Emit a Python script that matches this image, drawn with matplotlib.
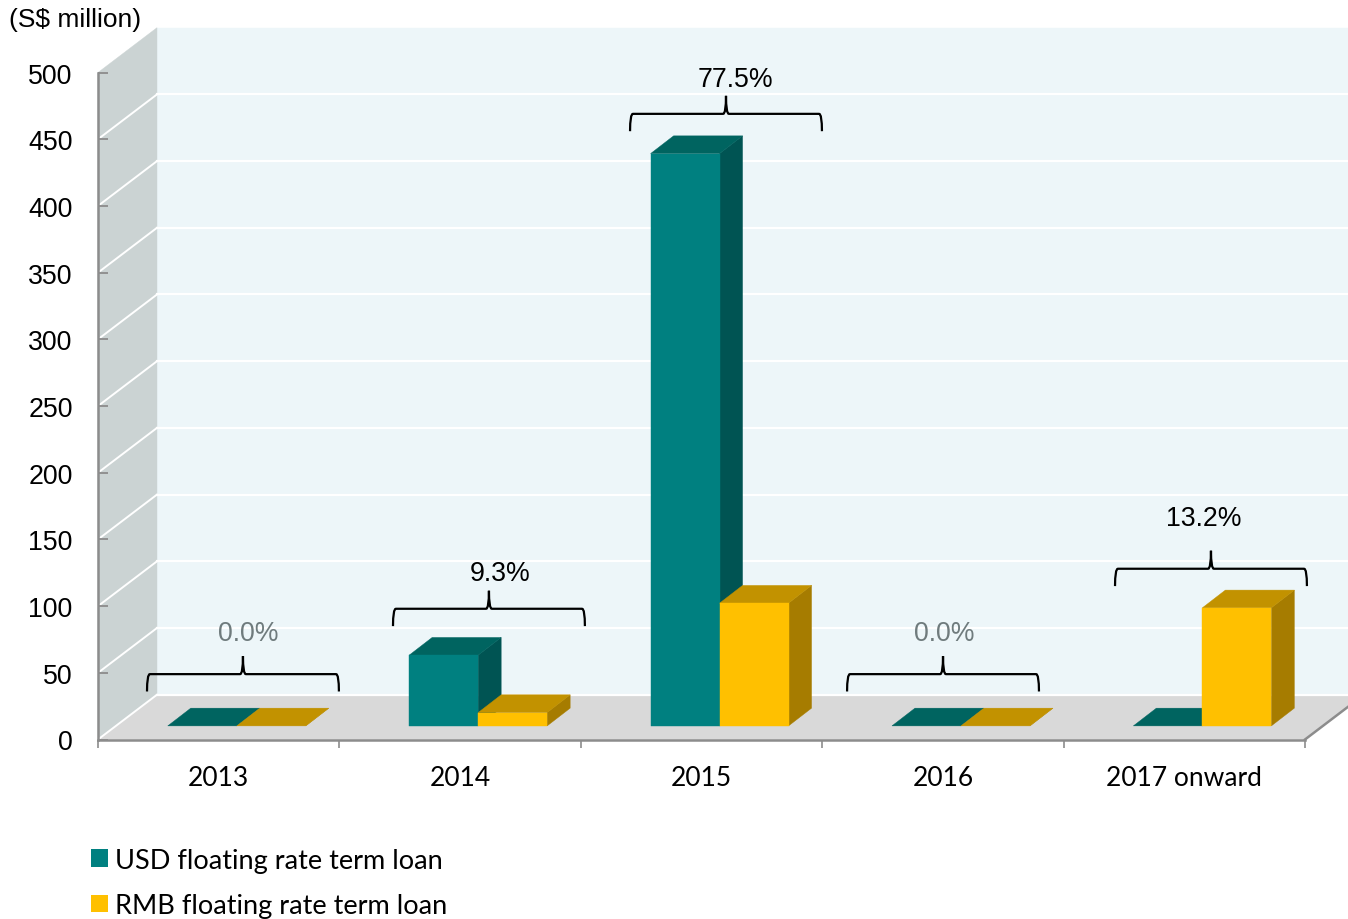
import matplotlib
matplotlib.use('Agg')
from matplotlib import pyplot as plt
from matplotlib.patches import Polygon, Patch, PathPatch
from matplotlib.path import Path

categories = ['2013', '2014', '2015', '2016', '2017 onward']
usd_loan = [0, 53, 429, 0, 0]
rmb_loan = [0, 10, 92, 0, 88.5]
shares = ['0.0%', '9.3%', '77.5%', '0.0%', '13.2%']
y_ticks = list(range(0, 501, 50))

# brace placement: left end in category units, foot height in S$ million
brace_left = [0.203, 1.222, 2.204, 3.103, 4.213]
brace_foot = [36, 85, 456, 36, 115]
label_x = [0.621, 1.664, 2.640, 3.505, 4.582]
label_y = [80, 125, 495, 80, 166]
label_colors = ['#6f7b7d', 'black', 'black', '#6f7b7d', 'black']

# pseudo 3D offsets, in data units
WALL_DX, WALL_DY = 0.2444, 33.6
BAR_DX, BAR_DY = 0.0953, 13.3
BAR_W = 0.2858
BAR_START = 0.289
BAR_BASE = 10.2
BRACE_W, BRACE_H, BRACE_TIP = 0.795, 13, 26.5

AXIS_GRAY = '#8c8c8c'
ARIAL_LIKE = 'Liberation Sans'

fig = plt.figure(figsize=(13.48, 9.2), dpi=100)
ax = fig.add_axes([98 / 1348, 1 - 740.5 / 920, 1207 / 1348, 667 / 920])
ax.set_xlim(0, 5)
ax.set_ylim(0, 500)
ax.patch.set_visible(False)


def face(points, color, zorder):
    ax.add_patch(Polygon(points, closed=True, facecolor=color, edgecolor=color,
                         linewidth=0.3, clip_on=False, zorder=zorder))


def bar_3d(left, value, front, top, side, zorder):
    right = left + BAR_W
    low = BAR_BASE
    high = BAR_BASE + value
    face([(right, low), (right + BAR_DX, low + BAR_DY),
          (right + BAR_DX, high + BAR_DY), (right, high)], side, zorder)
    face([(left, high), (right, high),
          (right + BAR_DX, high + BAR_DY), (left + BAR_DX, high + BAR_DY)], top, zorder)
    if value > 0:
        face([(left, low), (right, low), (right, high), (left, high)], front, zorder + 0.1)


def brace(left, foot):
    right = left + BRACE_W
    mid = left + BRACE_W / 2
    y = foot + BRACE_H
    tip = foot + BRACE_TIP
    r = 0.012
    verts = [(left, foot), (left, y), (left + r, y), (mid - r, y), (mid, y), (mid, tip),
             (mid, y), (mid + r, y), (right - r, y), (right, y), (right, foot)]
    codes = [Path.MOVETO, Path.CURVE3, Path.CURVE3, Path.LINETO, Path.CURVE3, Path.CURVE3,
             Path.CURVE3, Path.CURVE3, Path.LINETO, Path.CURVE3, Path.CURVE3]
    ax.add_patch(PathPatch(Path(verts, codes), facecolor='none', edgecolor='black',
                           linewidth=1.6, clip_on=False, zorder=6))


# walls and floor
face([(WALL_DX, WALL_DY), (5 + WALL_DX, WALL_DY), (5 + WALL_DX, 500 + WALL_DY), (WALL_DX, 500 + WALL_DY)], '#edf6f9', 0)
face([(0, 0), (WALL_DX, WALL_DY), (WALL_DX, 500 + WALL_DY), (0, 500)], '#cbd3d3', 0)
face([(0, 0), (5, 0), (5 + WALL_DX, WALL_DY), (WALL_DX, WALL_DY)], '#d9d9d9', 0)

for tick in y_ticks[:-1]:
    ax.plot([WALL_DX, 5 + WALL_DX], [tick + WALL_DY] * 2, color='white', lw=1.6, clip_on=False, zorder=1)
    ax.plot([0, WALL_DX], [tick, tick + WALL_DY], color='white', lw=1.4, clip_on=False, zorder=1)
ax.plot([5, 5 + WALL_DX], [0, WALL_DY], color=AXIS_GRAY, lw=1.8, clip_on=False, zorder=1)

# bars, left to right so the nearer faces overlap
for i in range(len(categories)):
    usd_left = i + BAR_START
    rmb_left = usd_left + BAR_W
    bar_3d(usd_left, usd_loan[i], '#008080', '#006460', '#005453', 3)
    bar_3d(rmb_left, rmb_loan[i], '#ffc000', '#c29200', '#a67c00', 4)
    brace(brace_left[i], brace_foot[i])
    ax.text(label_x[i], label_y[i], shares[i], ha='center', va='center', fontsize=19.2,
            family=ARIAL_LIKE, color=label_colors[i], zorder=7)

# axes
for name in ['top', 'right']:
    ax.spines[name].set_visible(False)
for name in ['left', 'bottom']:
    ax.spines[name].set_color(AXIS_GRAY)
    ax.spines[name].set_linewidth(1.8)
    ax.spines[name].set_zorder(2)

ax.set_yticks(y_ticks)
ax.tick_params(axis='y', direction='in', length=7, width=1.3, color=AXIS_GRAY, pad=18.2, labelsize=19.3)
for lab in ax.get_yticklabels():
    lab.set_family(ARIAL_LIKE)

ax.set_xticks(range(len(categories) + 1))
ax.set_xticklabels([])
ax.tick_params(axis='x', which='major', direction='out', length=5.5, width=1.2, color=AXIS_GRAY)
ax.set_xticks([i + 0.5 for i in range(len(categories))], minor=True)
ax.set_xticklabels(categories, minor=True, family='Lato', fontsize=19)
ax.tick_params(axis='x', which='minor', length=0, pad=18.3)

fig.text(9 / 1348, 1 - 20 / 920, '(S$ million)', fontsize=19, family=ARIAL_LIKE, ha='left', va='center')

handles = [Patch(facecolor='#008080', label='USD floating rate term loan'),
           Patch(facecolor='#ffc000', label='RMB floating rate term loan')]
fig.legend(handles=handles, loc='lower left', bbox_to_anchor=(91 / 1348, 1 - 919 / 920), frameon=False,
           prop={'family': 'Lato', 'size': 19.5}, handlelength=0.63, handleheight=0.64,
           handletextpad=0.26, labelspacing=0.74, borderpad=0, borderaxespad=0)

plt.savefig('out.png', dpi=100)
